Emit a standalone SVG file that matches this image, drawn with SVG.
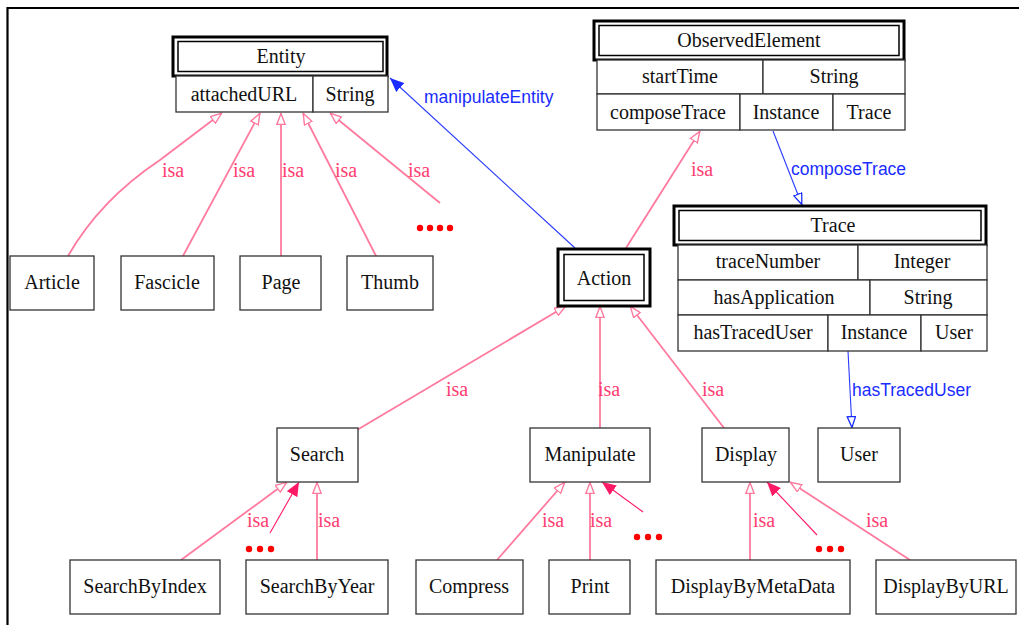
<svg xmlns="http://www.w3.org/2000/svg" width="1019" height="625" viewBox="0 0 1019 625">
<style>
.bx{fill:#fff;stroke:#333;stroke-width:1.3}
.ob{fill:#fff;stroke:#000;stroke-width:3}
.ib{fill:none;stroke:#000;stroke-width:1.5}
.t{font-family:"Liberation Serif",serif;font-size:20px;fill:#111;text-anchor:middle}
.isa{stroke:#ff7a9e;stroke-width:1.8;fill:none}
.dot{stroke:#ff1a66;stroke-width:1.1;fill:none}
.rel{stroke:#2a3cff;stroke-width:1.1;fill:none}
.li{font-family:"Liberation Serif",serif;font-size:20px;fill:#ff3d70}
.lb{font-family:"Liberation Sans",sans-serif;font-size:17.5px;fill:#1a2cff}
.dots{fill:#ff0000}
</style>
<defs>
<marker id="hp" viewBox="0 0 12 10" refX="12" refY="5" markerWidth="12" markerHeight="10" markerUnits="userSpaceOnUse" orient="auto"><path d="M0.5,0.8 L11.5,5 L0.5,9.2 z" fill="#fff" stroke="#ff7a9e" stroke-width="1.4"/></marker>
<marker id="fp" viewBox="0 0 14 12" refX="14" refY="6" markerWidth="14" markerHeight="12" markerUnits="userSpaceOnUse" orient="auto"><path d="M0,0 L14,6 L0,12 z" fill="#ff1a66"/></marker>
<marker id="fb" viewBox="0 0 14 12" refX="14" refY="6" markerWidth="14" markerHeight="12" markerUnits="userSpaceOnUse" orient="auto"><path d="M0,0 L14,6 L0,12 z" fill="#1a2cff"/></marker>
<marker id="hb" viewBox="0 0 12 10" refX="12" refY="5" markerWidth="12" markerHeight="10" markerUnits="userSpaceOnUse" orient="auto"><path d="M0.5,0.8 L11.5,5 L0.5,9.2 z" fill="#fff" stroke="#1a2cff" stroke-width="1.3"/></marker>
</defs>
<rect x="0" y="0" width="1019" height="625" fill="#fff"/>
<path d="M7.5,625 L7.5,8 L1019,8" fill="none" stroke="#000" stroke-width="2.2"/>

<g id="connectors">
<path class="isa" d="M68,256 Q100,200 160,160 L222,113" marker-end="url(#hp)"/>
<line class="isa" x1="183" y1="256" x2="260" y2="113" marker-end="url(#hp)"/>
<line class="isa" x1="281" y1="256" x2="281" y2="113" marker-end="url(#hp)"/>
<line class="isa" x1="376" y1="256" x2="303" y2="113" marker-end="url(#hp)"/>
<line class="isa" x1="440" y1="203" x2="330" y2="113" marker-end="url(#hp)"/>
<line class="rel" x1="575" y1="248" x2="390" y2="78" marker-end="url(#fb)"/>
<line class="isa" x1="626" y1="248" x2="700" y2="131" marker-end="url(#hp)"/>
<line class="rel" x1="773" y1="131" x2="802" y2="205" stroke-width="1.6" marker-end="url(#hb)"/>
<line class="rel" x1="848" y1="351" x2="852" y2="428" stroke-width="1.6" marker-end="url(#hb)"/>
<line class="isa" x1="357" y1="430" x2="566" y2="306" marker-end="url(#hp)"/>
<line class="isa" x1="600" y1="428" x2="600" y2="306" marker-end="url(#hp)"/>
<line class="isa" x1="724" y1="428" x2="630" y2="306" marker-end="url(#hp)"/>
<line class="isa" x1="181" y1="560" x2="287" y2="482" marker-end="url(#hp)"/>
<line class="dot" x1="270" y1="533" x2="299" y2="482" marker-end="url(#fp)"/>
<line class="isa" x1="317" y1="560" x2="317" y2="482" marker-end="url(#hp)"/>
<line class="isa" x1="497" y1="560" x2="565" y2="482" marker-end="url(#hp)"/>
<line class="isa" x1="590" y1="560" x2="590" y2="482" marker-end="url(#hp)"/>
<line class="dot" x1="643" y1="512" x2="602" y2="482" marker-end="url(#fp)"/>
<line class="isa" x1="750" y1="560" x2="750" y2="482" marker-end="url(#hp)"/>
<line class="dot" x1="817" y1="535" x2="767" y2="482" marker-end="url(#fp)"/>
<line class="isa" x1="910" y1="560" x2="790" y2="482" marker-end="url(#hp)"/>
<text class="li" x="162" y="177">isa</text>
<text class="li" x="233" y="177">isa</text>
<text class="li" x="282" y="177">isa</text>
<text class="li" x="335" y="177">isa</text>
<text class="li" x="408" y="177">isa</text>
<text class="li" x="691" y="176">isa</text>
<text class="li" x="446" y="396">isa</text>
<text class="li" x="598" y="396">isa</text>
<text class="li" x="702" y="396">isa</text>
<text class="li" x="247" y="527">isa</text>
<text class="li" x="318" y="527">isa</text>
<text class="li" x="542" y="527">isa</text>
<text class="li" x="590" y="527">isa</text>
<text class="li" x="753" y="527">isa</text>
<text class="li" x="866" y="527">isa</text>
<text class="lb" x="424" y="103">manipulateEntity</text>
<text class="lb" x="791" y="175">composeTrace</text>
<text class="lb" x="852" y="396">hasTracedUser</text>
<g class="dots">
<circle cx="420" cy="228" r="3.2"/><circle cx="430" cy="228" r="3.2"/><circle cx="440" cy="228" r="3.2"/><circle cx="450" cy="228" r="3.2"/>
<circle cx="249" cy="549" r="3.2"/><circle cx="260" cy="549" r="3.2"/><circle cx="271" cy="549" r="3.2"/>
<circle cx="637" cy="537" r="3.2"/><circle cx="648" cy="537" r="3.2"/><circle cx="659" cy="537" r="3.2"/>
<circle cx="819" cy="549" r="3.2"/><circle cx="830" cy="549" r="3.2"/><circle cx="841" cy="549" r="3.2"/>
</g>
</g>

<g id="Entity">
<rect class="ob" x="173" y="37" width="214" height="39"/>
<rect class="ib" x="178" y="41.5" width="205" height="30"/>
<text class="t" x="281" y="63">Entity</text>
<rect class="bx" x="176" y="76" width="137" height="36"/>
<rect class="bx" x="313" y="76" width="75" height="36"/>
<text class="t" x="244" y="101">attachedURL</text>
<text class="t" x="350" y="101">String</text>
</g>

<g id="ObservedElement">
<rect class="ob" x="594" y="21" width="310" height="39"/>
<rect class="ib" x="599" y="25.5" width="300" height="30"/>
<text class="t" x="749" y="47">ObservedElement</text>
<rect class="bx" x="597" y="60" width="166" height="34"/>
<rect class="bx" x="763" y="60" width="142" height="34"/>
<text class="t" x="680" y="83">startTime</text>
<text class="t" x="834" y="83">String</text>
<rect class="bx" x="597" y="94" width="143" height="36"/>
<rect class="bx" x="740" y="94" width="93" height="36"/>
<rect class="bx" x="833" y="94" width="72" height="36"/>
<text class="t" x="668" y="119">composeTrace</text>
<text class="t" x="786" y="119">Instance</text>
<text class="t" x="869" y="119">Trace</text>
</g>

<g id="Trace">
<rect class="ob" x="674" y="206" width="312" height="39"/>
<rect class="ib" x="679" y="210.5" width="302" height="30"/>
<text class="t" x="833" y="232">Trace</text>
<rect class="bx" x="678" y="245" width="180" height="35"/>
<rect class="bx" x="858" y="245" width="129" height="35"/>
<text class="t" x="768" y="268">traceNumber</text>
<text class="t" x="922" y="268">Integer</text>
<rect class="bx" x="678" y="280" width="192" height="35"/>
<rect class="bx" x="870" y="280" width="117" height="35"/>
<text class="t" x="774" y="304">hasApplication</text>
<text class="t" x="928" y="304">String</text>
<rect class="bx" x="678" y="315" width="150" height="36"/>
<rect class="bx" x="828" y="315" width="93" height="36"/>
<rect class="bx" x="921" y="315" width="66" height="36"/>
<text class="t" x="753" y="339">hasTracedUser</text>
<text class="t" x="874" y="339">Instance</text>
<text class="t" x="954" y="339">User</text>
</g>

<g id="Action">
<rect class="ob" x="558" y="249" width="92" height="57"/>
<rect class="ib" x="564" y="254.5" width="80" height="46"/>
<text class="t" x="604" y="285">Action</text>
</g>

<g id="Article"><rect class="bx" x="10" y="256" width="84" height="54"/><text class="t" x="52" y="289">Article</text></g>
<g id="Fascicle"><rect class="bx" x="121" y="256" width="93" height="54"/><text class="t" x="167" y="289">Fascicle</text></g>
<g id="Page"><rect class="bx" x="240" y="256" width="81" height="54"/><text class="t" x="281" y="289">Page</text></g>
<g id="Thumb"><rect class="bx" x="347" y="256" width="86" height="54"/><text class="t" x="390" y="289">Thumb</text></g>

<g id="Search"><rect class="bx" x="277" y="428" width="81" height="54"/><text class="t" x="317" y="461">Search</text></g>
<g id="Manipulate"><rect class="bx" x="530" y="428" width="120" height="54"/><text class="t" x="590" y="461">Manipulate</text></g>
<g id="Display"><rect class="bx" x="702" y="428" width="87" height="54"/><text class="t" x="746" y="461">Display</text></g>
<g id="User"><rect class="bx" x="818" y="428" width="82" height="54"/><text class="t" x="859" y="461">User</text></g>

<g id="SearchByIndex"><rect class="bx" x="70" y="560" width="150" height="54"/><text class="t" x="145" y="593">SearchByIndex</text></g>
<g id="SearchByYear"><rect class="bx" x="246" y="560" width="142" height="54"/><text class="t" x="317" y="593">SearchByYear</text></g>
<g id="Compress"><rect class="bx" x="416" y="560" width="107" height="54"/><text class="t" x="469" y="593">Compress</text></g>
<g id="Print"><rect class="bx" x="549" y="560" width="81" height="54"/><text class="t" x="590" y="593">Print</text></g>
<g id="DisplayByMetaData"><rect class="bx" x="656" y="560" width="194" height="54"/><text class="t" x="753" y="593">DisplayByMetaData</text></g>
<g id="DisplayByURL"><rect class="bx" x="876" y="560" width="140" height="54"/><text class="t" x="946" y="593">DisplayByURL</text></g>
</svg>
